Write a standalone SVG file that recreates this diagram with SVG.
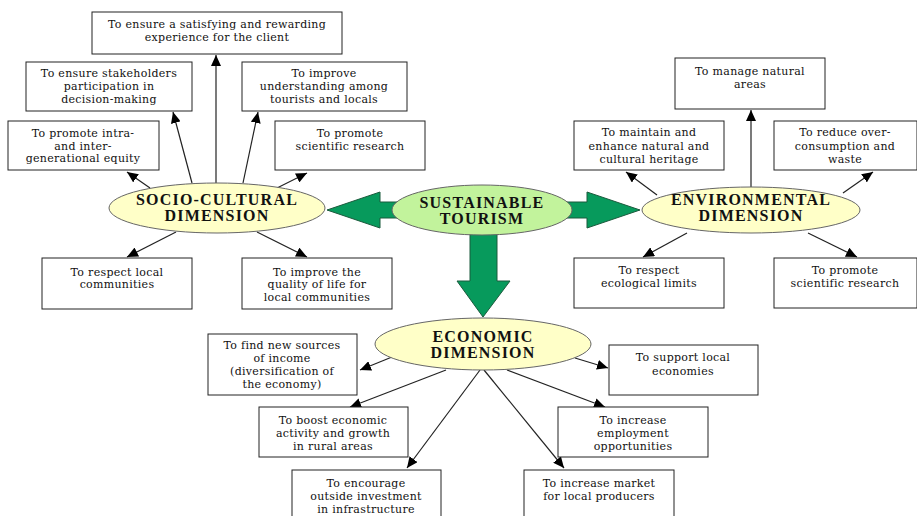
<svg xmlns="http://www.w3.org/2000/svg" width="917" height="516" viewBox="0 0 917 516">
<defs>
<marker id="ah" markerWidth="12" markerHeight="10" refX="11" refY="5" orient="auto" markerUnits="userSpaceOnUse"><path d="M0,0 L11,5 L0,10 Z" fill="#000"/></marker>
<style>
.box rect{fill:#fff;stroke:#222;stroke-width:1}
.box text{font-family:"DejaVu Serif","Liberation Serif",serif;font-size:11px;letter-spacing:0.3px;fill:#111;text-anchor:middle}
.dim ellipse{fill:#ffffc8;stroke:#666;stroke-width:1}
.dim text{font-family:"Liberation Serif","DejaVu Serif",serif;font-size:16px;font-weight:bold;fill:#111;text-anchor:middle;letter-spacing:1.2px}
#conn line{stroke:#222;stroke-width:1.2;marker-end:url(#ah)}
.big{fill:#079a5c;stroke:#1b5a3c;stroke-width:1}
</style>
</defs>
<rect width="917" height="516" fill="#fff"/>

<g id="bigArrows">
<polygon class="big" points="400,202 380,202 380,192 327,210 380,228 380,218 400,218"/>
<polygon class="big" points="565,202 587,202 587,192 640,210 587,228 587,218 565,218"/>
<polygon class="big" points="470,230 497,230 497,281 510,281 483,317 457,281 470,281"/>
</g>

<g id="conn">
<line x1="150" y1="188" x2="127" y2="172"/>
<line x1="192" y1="183" x2="173" y2="112"/>
<line x1="216" y1="183" x2="216" y2="55"/>
<line x1="243" y1="183" x2="258" y2="112"/>
<line x1="277" y1="188" x2="307" y2="173"/>
<line x1="176" y1="232" x2="127" y2="257"/>
<line x1="257" y1="232" x2="307" y2="257"/>
<line x1="751" y1="187" x2="751" y2="110"/>
<line x1="657" y1="195" x2="626" y2="172"/>
<line x1="843" y1="193" x2="873" y2="172"/>
<line x1="687" y1="233" x2="643" y2="257"/>
<line x1="808" y1="233" x2="857" y2="257"/>
<line x1="392" y1="357" x2="360" y2="370"/>
<line x1="575" y1="358" x2="608" y2="368"/>
<line x1="446" y1="370" x2="350" y2="407"/>
<line x1="507" y1="370" x2="605" y2="407"/>
<line x1="480" y1="370" x2="407" y2="468"/>
<line x1="484" y1="370" x2="564" y2="468"/>
</g>

<g id="sustainable" class="dim"><ellipse cx="482" cy="210" rx="90" ry="25" style="fill:#c2f39c"/><text x="482" y="208">SUSTAINABLE</text><text x="482" y="224">TOURISM</text></g>
<g id="socio" class="dim"><ellipse cx="217" cy="208" rx="108" ry="25"/><text x="217" y="205">SOCIO-CULTURAL</text><text x="217" y="221">DIMENSION</text></g>
<g id="env" class="dim"><ellipse cx="751" cy="210" rx="109" ry="23"/><text x="751" y="205">ENVIRONMENTAL</text><text x="751" y="221">DIMENSION</text></g>
<g id="econ" class="dim"><ellipse cx="483" cy="344" rx="108" ry="26"/><text x="483" y="342">ECONOMIC</text><text x="483" y="358">DIMENSION</text></g>

<g id="s1" class="box"><rect x="92" y="12" width="250" height="42"/><text x="217" y="28">To ensure a satisfying and rewarding</text><text x="217" y="41">experience for the client</text></g>
<g id="s2" class="box"><rect x="26" y="62" width="166" height="49"/><text x="109" y="77">To ensure stakeholders</text><text x="109" y="90">participation in</text><text x="109" y="103">decision-making</text></g>
<g id="s3" class="box"><rect x="242" y="62" width="165" height="49"/><text x="324" y="77">To improve</text><text x="324" y="90">understanding among</text><text x="324" y="103">tourists and locals</text></g>
<g id="s4" class="box"><rect x="8" y="121" width="151" height="49"/><text x="83" y="137">To promote intra-</text><text x="83" y="150">and inter-</text><text x="83" y="162">generational equity</text></g>
<g id="s5" class="box"><rect x="275" y="121" width="150" height="49"/><text x="350" y="137">To promote</text><text x="350" y="150">scientific research</text></g>
<g id="s6" class="box"><rect x="42" y="258" width="150" height="51"/><text x="117" y="276">To respect local</text><text x="117" y="288">communities</text></g>
<g id="s7" class="box"><rect x="242" y="258" width="150" height="51"/><text x="317" y="276">To improve the</text><text x="317" y="288">quality of life for</text><text x="317" y="301">local communities</text></g>

<g id="e1" class="box"><rect x="675" y="58" width="150" height="51"/><text x="750" y="75">To manage natural</text><text x="750" y="88">areas</text></g>
<g id="e2" class="box"><rect x="574" y="121" width="150" height="49"/><text x="649" y="136">To maintain and</text><text x="649" y="150">enhance natural and</text><text x="649" y="163">cultural heritage</text></g>
<g id="e3" class="box"><rect x="774" y="121" width="143" height="49"/><text x="845" y="136">To reduce over-</text><text x="845" y="150">consumption and</text><text x="845" y="163">waste</text></g>
<g id="e4" class="box"><rect x="574" y="258" width="150" height="50"/><text x="649" y="274">To respect</text><text x="649" y="287">ecological limits</text></g>
<g id="e5" class="box"><rect x="774" y="258" width="143" height="50"/><text x="845" y="274">To promote</text><text x="845" y="287">scientific research</text></g>

<g id="c1" class="box"><rect x="208" y="334" width="149" height="61"/><text x="282" y="349">To find new sources</text><text x="282" y="362">of income</text><text x="282" y="375">(diversification of</text><text x="282" y="388">the economy)</text></g>
<g id="c2" class="box"><rect x="609" y="345" width="149" height="50"/><text x="683" y="361">To support local</text><text x="683" y="375">economies</text></g>
<g id="c3" class="box"><rect x="259" y="407" width="149" height="50"/><text x="333" y="424">To boost economic</text><text x="333" y="437">activity and growth</text><text x="333" y="450">in rural areas</text></g>
<g id="c4" class="box"><rect x="558" y="407" width="150" height="50"/><text x="633" y="424">To increase</text><text x="633" y="437">employment</text><text x="633" y="450">opportunities</text></g>
<g id="c5" class="box"><rect x="292" y="470" width="149" height="50"/><text x="366" y="487">To encourage</text><text x="366" y="500">outside investment</text><text x="366" y="513">in infrastructure</text></g>
<g id="c6" class="box"><rect x="524" y="470" width="150" height="50"/><text x="599" y="487">To increase market</text><text x="599" y="500">for local producers</text></g>
</svg>
